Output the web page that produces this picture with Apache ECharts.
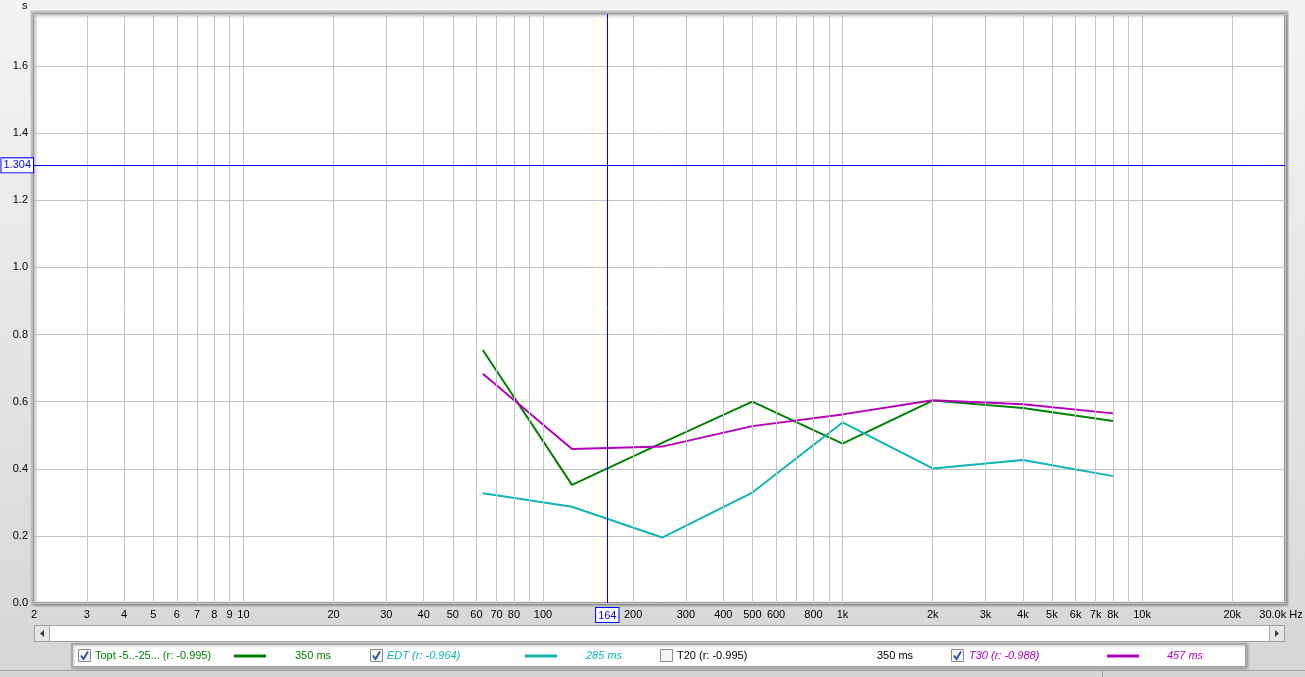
<!DOCTYPE html>
<html><head><meta charset="utf-8">
<script src="https://cdn.jsdelivr.net/npm/echarts@6/dist/echarts.min.js"></script>
<style>html,body{margin:0;padding:0;background:#e4e4e4;overflow:hidden}#c{width:1305px;height:677px}</style>
</head><body><div id="c"></div>
<script>
// ---- data ----
const freqs = [63, 125, 250, 500, 1000, 2000, 4000, 8000];
const toptValues = [0.754, 0.352, 0.477, 0.600, 0.475, 0.603, 0.581, 0.542];
const edtValues  = [0.327, 0.287, 0.195, 0.329, 0.538, 0.401, 0.426, 0.378];
const t30Values  = [0.683, 0.459, 0.466, 0.527, 0.562, 0.604, 0.592, 0.565];

const xGridFreqs = [2,3,4,5,6,7,8,9,10,20,30,40,50,60,70,80,90,100,200,300,400,500,600,700,800,900,
  1000,2000,3000,4000,5000,6000,7000,8000,9000,10000,20000,30000];
const xTickFreqs  = [2,3,4,5,6,7,8,9,10,20,30,40,50,60,70,80,100,200,300,400,500,600,800,
  1000,2000,3000,4000,5000,6000,7000,8000,10000,20000,30000];
const xTickLabels = ['2','3','4','5','6','7','8','9','10','20','30','40','50','60','70','80','100','200','300','400','500','600','800',
  '1k','2k','3k','4k','5k','6k','7k','8k','10k','20k','30.0k Hz'];
const yMin = 0, yMax = 1.755, yStep = 0.2;
const cursorFreq = 164, cursorValue = 1.304;

const legendItems = [
  {name:'Topt -5..-25... (r: -0.995)', value:'350 ms', color:'#008000', italic:false, checked:true, line:true},
  {name:'EDT (r: -0.964)', value:'285 ms', color:'#10b4b4', italic:true, checked:true, line:true},
  {name:'T20 (r: -0.995)', value:'350 ms', color:'#000000', italic:false, checked:false, line:false},
  {name:'T30 (r: -0.988)', value:'457 ms', color:'#b400bc', italic:true, checked:true, line:true}
];

const FONT = '"Liberation Sans", Arial, sans-serif';
const zip = (xs, ys) => xs.map((x, i) => [x, ys[i]]);

const labelMap = {};
xTickFreqs.forEach((f, i) => labelMap[f] = xTickLabels[i]);

const gridMarks = xGridFreqs.map(f => {
  const item = {xAxis: f};
  if (f === 30000) item.label = {offset: [-4, 0]};
  return item;
});

// ---- legend / frame graphics ----
const legendX = [78, 370, 660, 951];
const legendTextX = [95, 387, 677, 969];
const legendLineX = [234, 525, 816, 1107];
const legendValX = [295, 586, 877, 1167];
const g = [];
g.push({type:'text', left: 22, top: 0, style:{text:'s', fill:'#000', font:'11px ' + FONT}});
// plot frame (bevel)
g.push({type:'rect', z:-1, shape:{x:32,y:12,width:1255,height:593}, style:{fill:null, stroke:'#c4c4c4', lineWidth:3}});
// scrollbar
g.push({type:'rect', shape:{x:34.5,y:625.5,width:1250,height:16}, style:{fill:'#fff', stroke:'#a0a0a0'}});
g.push({type:'rect', shape:{x:34.5,y:625.5,width:15,height:16}, style:{fill:'#e6e6e6', stroke:'#a0a0a0'}});
g.push({type:'polygon', shape:{points:[[44,630],[44,637],[40,633.5]]}, style:{fill:'#404040'}});
g.push({type:'rect', shape:{x:1269.5,y:625.5,width:15,height:16}, style:{fill:'#e6e6e6', stroke:'#a0a0a0'}});
g.push({type:'polygon', shape:{points:[[1275,630],[1275,637],[1279,633.5]]}, style:{fill:'#404040'}});
// legend box
g.push({type:'rect', shape:{x:72,y:644,width:1174,height:23}, style:{fill:'#fff', stroke:'#a8a8a8', lineWidth:2, shadowBlur:3, shadowColor:'rgba(0,0,0,0.25)', shadowOffsetX:1, shadowOffsetY:1}});
legendItems.forEach((it, i) => {
  const cx = legendX[i];
  g.push({type:'rect', shape:{x:cx+0.5,y:649.5,width:12,height:12}, style:{fill:'#f4f4f4', stroke:'#8c8c8c'}});
  if (it.checked) g.push({type:'polyline', shape:{points:[[cx+3,655.5],[cx+5.5,659],[cx+10,651.5]]}, style:{stroke:'#2a4a9a', lineWidth:1.8, fill:null}});
  const font = (it.italic ? 'italic ' : '') + '11px ' + FONT;
  g.push({type:'text', x: legendTextX[i], y: 656, style:{text: it.name, fill: it.color, font, verticalAlign:'middle', align:'left'}});
  if (it.line) g.push({type:'line', shape:{x1:legendLineX[i], y1:656, x2:legendLineX[i]+32, y2:656}, style:{stroke: it.color, lineWidth:3}});
  g.push({type:'text', x: legendValX[i], y: 656, style:{text: it.value, fill: it.color, font, verticalAlign:'middle', align:'left'}});
});
g.push({type:'line', shape:{x1:0,y1:670.5,x2:1305,y2:670.5}, style:{stroke:'#a0a0a0', lineWidth:1}});
g.push({type:'line', shape:{x1:1102.5,y1:671,x2:1102.5,y2:677}, style:{stroke:'#a0a0a0', lineWidth:1}});

const chart = echarts.init(document.getElementById('c'), null, {renderer:'canvas'});
chart.setOption({
  backgroundColor: new echarts.graphic.LinearGradient(0, 0, 0, 1, [
    {offset:0, color:'#f4f4f4'}, {offset:1, color:'#d6d6d6'}]),
  animation:false,
  textStyle:{fontFamily: FONT},
  grid:{left:34, right:20, top:14, bottom:74, show:true, backgroundColor:'#ffffff', borderColor:'#9c9c9c', borderWidth:2,
        shadowBlur:3, shadowColor:'rgba(0,0,0,0.3)', shadowOffsetX:1, shadowOffsetY:1},
  xAxis:{type:'log', logBase:10, min:2, max:30000, axisLine:{show:false}, axisTick:{show:false},
         axisLabel:{show:false}, splitLine:{show:false}},
  yAxis:{type:'value', min:yMin, max:yMax, interval:yStep, axisLine:{show:false}, axisTick:{show:false},
         axisLabel:{color:'#000', fontSize:11, fontFamily:FONT, margin:6, showMaxLabel:false, formatter: v => v.toFixed(1)},
         splitLine:{lineStyle:{color:'#c4c4c4', width:1}}},
  graphic: g,
  series:[
    {type:'line', name:'grid', data:[[2,0]], showSymbol:false, symbol:'none', lineStyle:{opacity:0}, silent:true, z:1,
     markLine:{silent:true, symbol:'none', animation:false, precision:3,
       lineStyle:{color:'#c4c4c4', width:1, type:'solid'},
       label:{show:true, position:'start', distance:6, color:'#000', fontSize:11, fontFamily:FONT,
              formatter: p => labelMap[p.value] !== undefined ? labelMap[p.value] : ''},
       data: gridMarks}},
    {type:'line', name:'Topt', data: zip(freqs, toptValues), showSymbol:false, symbol:'none', lineStyle:{color:'#008000', width:2}, z:3},
    {type:'line', name:'EDT', data: zip(freqs, edtValues), showSymbol:false, symbol:'none', lineStyle:{color:'#10b4b4', width:2}, z:3},
    {type:'line', name:'T30', data: zip(freqs, t30Values), showSymbol:false, symbol:'none', lineStyle:{color:'#b400bc', width:2}, z:3},
    {type:'line', name:'cursor', data:[[2,0]], showSymbol:false, symbol:'none', lineStyle:{opacity:0}, silent:true, z:4,
     markLine:{silent:true, symbol:'none', animation:false, precision:3,
       lineStyle:{color:'#0000ff', width:1, type:'solid'},
       label:{show:true, position:'start', color:'#0000ff', fontSize:11, fontFamily:FONT, backgroundColor:'#fff',
              borderColor:'#0000ff', borderWidth:1, padding:[2,2,1,2]},
       data:[
         {xAxis: cursorFreq, label:{formatter: String(cursorFreq), distance:5}},
         {yAxis: cursorValue, label:{formatter: cursorValue.toFixed(3), distance:1}}
       ]}}
  ]
});
</script></body></html>
